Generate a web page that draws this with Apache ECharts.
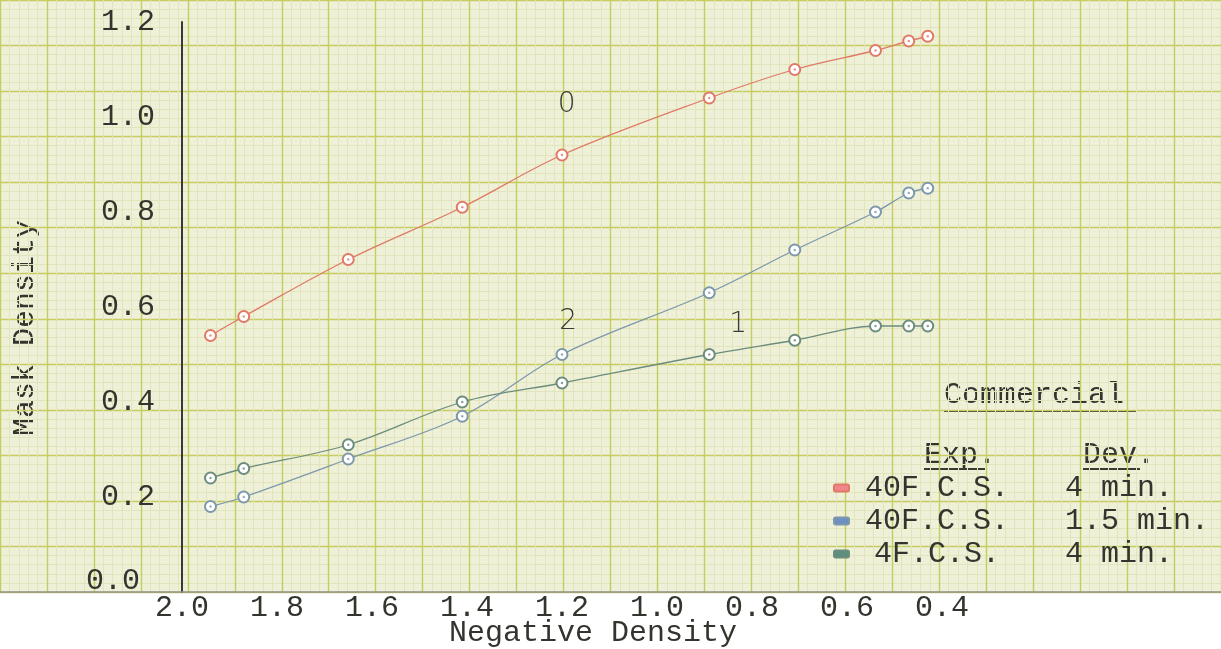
<!DOCTYPE html>
<html>
<head>
<meta charset="utf-8">
<script src="https://cdn.jsdelivr.net/npm/echarts@6/dist/echarts.min.js"></script>
<style>
html,body{margin:0;padding:0;background:#fff;}
#chart{width:1221px;height:649px;}
</style>
</head>
<body>
<div id="chart"></div>
<script>
// ---- data ----
const negativeDensity = [1.94, 1.87, 1.65, 1.41, 1.20, 0.89, 0.71, 0.54, 0.47, 0.43];
const mask40F4min   = [0.54, 0.58, 0.70, 0.81, 0.92, 1.04, 1.10, 1.14, 1.16, 1.17]; // curve 0
const mask40F15min  = [0.18, 0.20, 0.28, 0.37, 0.50, 0.63, 0.72, 0.80, 0.84, 0.85]; // curve 2
const mask4F4min    = [0.24, 0.26, 0.31, 0.40, 0.44, 0.50, 0.53, 0.56, 0.56, 0.56]; // curve 1
const xTicks = [2.0, 1.8, 1.6, 1.4, 1.2, 1.0, 0.8, 0.6, 0.4];
const yTicks = [0.0, 0.2, 0.4, 0.6, 0.8, 1.0, 1.2];
const seriesNames = ['40F.C.S.|4 min.', '40F.C.S.|1.5 min.', '4F.C.S.|4 min.'];
const curveLabels = ['0', '2', '1'];
const curveLabelPos = [[1.19, 1.025], [1.187, 0.568], [0.829, 0.562]];

const colors = ['#e07a66', '#7d98ab', '#6c8c7c'];
const swatch = ['#f0868a', '#6e8fc2', '#5e8f7e'];
const TYPE = "'Liberation Mono', 'DejaVu Sans Mono', monospace";
const INK = '#34342e';

const seriesValues = [mask40F4min, mask40F15min, mask4F4min];
const pairs = v => negativeDensity.map((x, i) => [x, v[i]]);

const chart = echarts.init(document.getElementById('chart'), null, {renderer: 'canvas'});

const series = [];
seriesValues.forEach((vals, k) => {
  series.push({
    name: seriesNames[k],
    type: 'line',
    xAxisIndex: 1, yAxisIndex: 1,
    data: pairs(vals),
    smooth: 0.35,
    symbol: 'emptyCircle',
    symbolSize: 11,
    lineStyle: {color: colors[k], width: 1.3},
    itemStyle: {color: colors[k], borderColor: colors[k], borderWidth: 1.2},
    z: 5,
    markPoint: {
      symbol: 'circle', symbolSize: 1,
      itemStyle: {color: 'rgba(0,0,0,0)'},
      label: {show: true, formatter: curveLabels[k], color: '#3a3a36', fontSize: 28,
              fontFamily: "'DejaVu Sans', sans-serif", fontWeight: 'lighter'},
      data: [{coord: curveLabelPos[k]}]
    }
  });
  series.push({
    name: seriesNames[k] + ' dot',
    type: 'scatter',
    xAxisIndex: 1, yAxisIndex: 1,
    data: pairs(vals),
    symbolSize: 2.5,
    itemStyle: {color: colors[k]},
    silent: true,
    z: 6
  });
});

const fmt1 = v => {
  const r = Math.round(v * 10) / 10;
  return xTicks.concat(yTicks).some(t => Math.abs(t - r) < 1e-6) ? r.toFixed(1) : '';
};
const fmtY = v => {
  const s = fmt1(v);
  return Math.abs(v) < 1e-9 ? '{z|' + s + '}' : s;
};

const MAJOR = '#c6cc60', MINOR = '#e1e4bd';

const option = {
  backgroundColor: '#ffffff',
  animation: false,
  grid: [
    {left: -8, right: -6, top: -25.5, bottom: 57, show: true, backgroundColor: '#eef0d8', borderWidth: 0},
    {left: 182, right: 279, top: 22, bottom: 57}
  ],
  xAxis: [
    {gridIndex: 0, type: 'value', min: -0.2, max: 2.4, interval: 0.1, inverse: true,
     axisLabel: {show: false}, axisTick: {show: false},
     axisLine: {show: true, lineStyle: {color: '#92928a', width: 1.5}},
     splitLine: {show: true, lineStyle: {color: MAJOR, width: 1.4}},
     minorTick: {show: false, splitNumber: 5},
     minorSplitLine: {show: true, lineStyle: {color: MINOR, width: 1}}},
    {gridIndex: 1, type: 'value', min: 0.4, max: 2.0, interval: 0.2, inverse: true,
     axisLine: {show: false}, axisTick: {show: false}, splitLine: {show: false},
     axisLabel: {show: true, formatter: fmt1, margin: 1, fontSize: 30, fontFamily: TYPE, color: INK}}
  ],
  yAxis: [
    {gridIndex: 0, type: 'value', min: 0, max: 1.3, interval: 0.1,
     axisLabel: {show: false}, axisTick: {show: false}, axisLine: {show: false},
     splitLine: {show: true, lineStyle: {color: MAJOR, width: 1.4}},
     minorTick: {show: false, splitNumber: 5},
     minorSplitLine: {show: true, lineStyle: {color: MINOR, width: 1}}},
    {gridIndex: 1, type: 'value', min: 0, max: 1.2, interval: 0.2,
     axisLine: {show: true, lineStyle: {color: '#3a3a33', width: 2}},
     axisTick: {show: false}, splitLine: {show: false},
     axisLabel: {show: true, formatter: fmtY, margin: 27, fontSize: 30, fontFamily: TYPE, color: INK,
                 rich: {z: {fontSize: 30, fontFamily: TYPE, color: INK, padding: [0, 15, 22, 0]}}}}
  ],
  legend: {
    data: seriesNames.map((n, k) => ({name: n, itemStyle: {color: swatch[k]}})),
    orient: 'vertical', left: 828, top: 467,
    icon: 'roundRect', itemWidth: 15, itemHeight: 7, itemGap: 1,
    selectedMode: false,
    formatter: n => { const p = n.split('|'); return '{a|' + p[0] + '}{b|' + p[1] + '}'; },
    textStyle: {
      fontSize: 30, fontFamily: TYPE, color: INK, lineHeight: 32,
      rich: {
        a: {fontSize: 30, fontFamily: TYPE, color: INK, width: 166, align: 'right', lineHeight: 32},
        b: {fontSize: 30, fontFamily: TYPE, color: INK, padding: [0, 0, 0, 45], lineHeight: 32}
      }
    }
  },
  graphic: [
    {type: 'text', left: 944, top: 380, style: {text: 'Commercial', fontSize: 30, fontFamily: TYPE, fill: INK}},
    {type: 'line', shape: {x1: 944, y1: 411, x2: 1136, y2: 411}, style: {stroke: '#3a3a33', lineWidth: 2}},
    {type: 'text', left: 924, top: 440, style: {text: 'Exp.', fontSize: 30, fontFamily: TYPE, fill: INK}},
    {type: 'line', shape: {x1: 924, y1: 469, x2: 985, y2: 469}, style: {stroke: '#3a3a33', lineWidth: 2}},
    {type: 'text', left: 1083, top: 440, style: {text: 'Dev.', fontSize: 30, fontFamily: TYPE, fill: INK}},
    {type: 'line', shape: {x1: 1083, y1: 469, x2: 1140, y2: 469}, style: {stroke: '#3a3a33', lineWidth: 2}},
    {type: 'text', x: 593, y: 633, style: {text: 'Negative Density', fontSize: 30, fontFamily: TYPE, fill: INK, align: 'center', verticalAlign: 'middle'}},
    {type: 'text', x: 25, y: 328, rotation: Math.PI / 2, style: {text: 'Mask Density', fontSize: 30, fontFamily: TYPE, fill: INK, align: 'center', verticalAlign: 'middle'}}
  ],
  series: series
};
chart.setOption(option);
</script>
</body>
</html>
